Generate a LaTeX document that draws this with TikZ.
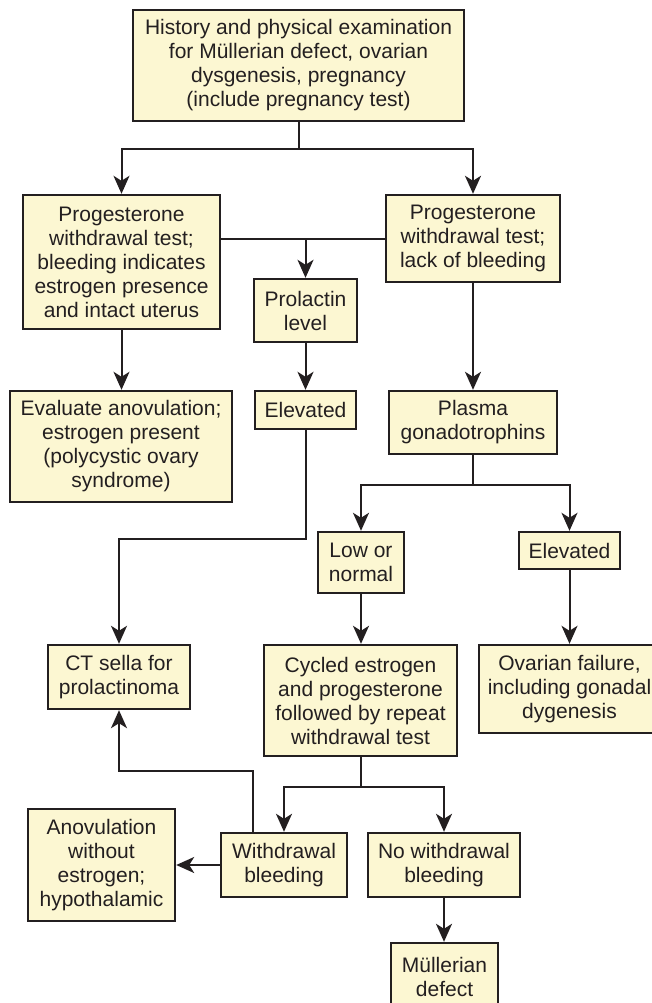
\documentclass[tikz,border=0pt]{standalone}
\usepackage{fontspec}
\setmainfont{Liberation Sans}
\usepackage{xcolor}
\usetikzlibrary{arrows.meta}
\definecolor{boxfill}{HTML}{FCF7D2}
\definecolor{ink}{HTML}{231F20}

\begin{document}
\begin{tikzpicture}[x=1pt, y=-1pt,
    box/.style={draw=ink, line width=2.4pt, fill=boxfill, inner sep=0pt, align=center,
        font=\fontsize{21}{24}\selectfont, text=ink},
    arr/.style={draw=ink, line width=2pt, -{Stealth[length=18pt,width=16pt,inset=5pt]}},
    ln/.style={draw=ink, line width=2pt}]
    \clip (0,0) rectangle (652,1003);

    % Top
    \node [box, minimum width=331pt, minimum height=111pt] (hist) at (298.5,65.5) {History and physical examination\\for Müllerian defect, ovarian\\dysgenesis, pregnancy\\(include pregnancy test)};

    % Progesterone tests
    \node [box, minimum width=197pt, minimum height=134pt] (progbleed) at (121.5,262) {Progesterone\\withdrawal test;\\bleeding indicates\\estrogen presence\\and intact uterus};
    \node [box, minimum width=174pt, minimum height=87pt] (prognobleed) at (473,238.5) {Progesterone\\withdrawal test;\\lack of bleeding};
    \node [box, minimum width=103pt, minimum height=63pt] (prolactin) at (305.5,310.5) {Prolactin\\level};

    % Second row
    \node [box, minimum width=222pt, minimum height=111pt] (anovest) at (121,446.5) {Evaluate anovulation;\\estrogen present\\(polycystic ovary\\syndrome)};
    \node [box, minimum width=101pt, minimum height=38pt] (prlhigh) at (305.5,410) {Elevated};
    \node [box, minimum width=168pt, minimum height=63pt] (plasma) at (473,422.5) {Plasma\\gonadotrophins};

    % Gonadotrophin levels
    \node [box, minimum width=86pt, minimum height=61pt] (lownorm) at (361,562.5) {Low or\\normal};
    \node [box, minimum width=101pt, minimum height=37pt] (gonhigh) at (569.5,550.5) {Elevated};

    % Third row
    \node [box, minimum width=142pt, minimum height=64pt] (ctsella) at (119,677) {CT sella for\\prolactinoma};
    \node [box, minimum width=193pt, minimum height=111pt] (cycled) at (360.5,700.5) {Cycled estrogen\\and progesterone\\followed by repeat\\withdrawal test};
    \node [box, minimum width=181pt, minimum height=88pt] (ovfail) at (569.5,689) {Ovarian failure,\\including gonadal\\dygenesis};

    % Bottom
    \node [box, minimum width=147pt, minimum height=112pt] (anovnoest) at (101.5,865) {Anovulation\\without\\estrogen;\\hypothalamic};
    \node [box, minimum width=126pt, minimum height=64pt] (wdbleed) at (284,865) {Withdrawal\\bleeding};
    \node [box, minimum width=152pt, minimum height=64pt] (nowdbleed) at (444,865) {No withdrawal\\bleeding};
    \node [box, minimum width=107pt, minimum height=67pt] (mullerian) at (444.5,976.5) {Müllerian\\defect};

    % Connectors
    \draw [ln] (hist.south) -- ++(0,27) coordinate (split1);
    \draw [arr] (split1) -| (progbleed.north);
    \draw [arr] (split1) -| (prognobleed.north);
    \draw [ln] (progbleed.east |- prognobleed.west) -- (prognobleed.west);
    \draw [arr] (prolactin.north |- prognobleed.west) -- (prolactin.north);
    \draw [arr] (progbleed.south) -- (progbleed.south |- anovest.north);
    \draw [arr] (prolactin.south) -- (prlhigh.north);
    \draw [arr] (prognobleed.south) -- (plasma.north);
    \draw [arr] (prlhigh.south) -- ++(0,109) -| (ctsella.north);
    \draw [ln] (plasma.south) -- ++(0,30) coordinate (split2);
    \draw [arr] (split2) -| (lownorm.north);
    \draw [arr] (split2) -| (gonhigh.north);
    \draw [arr] (lownorm.south) -- (lownorm.south |- cycled.north);
    \draw [arr] (gonhigh.south) -- (ovfail.north);
    \draw [ln] (cycled.south) -- ++(0,30) coordinate (split3);
    \draw [arr] (split3) -| (wdbleed.north);
    \draw [arr] (split3) -| (nowdbleed.north);
    \draw [arr] ([xshift=-31pt]wdbleed.north) -- ++(0,-61) -| (ctsella.south);
    \draw [arr] (wdbleed.west) -- (anovnoest.east);
    \draw [arr] (nowdbleed.south) -- (nowdbleed.south |- mullerian.north);
\end{tikzpicture}
\end{document}
